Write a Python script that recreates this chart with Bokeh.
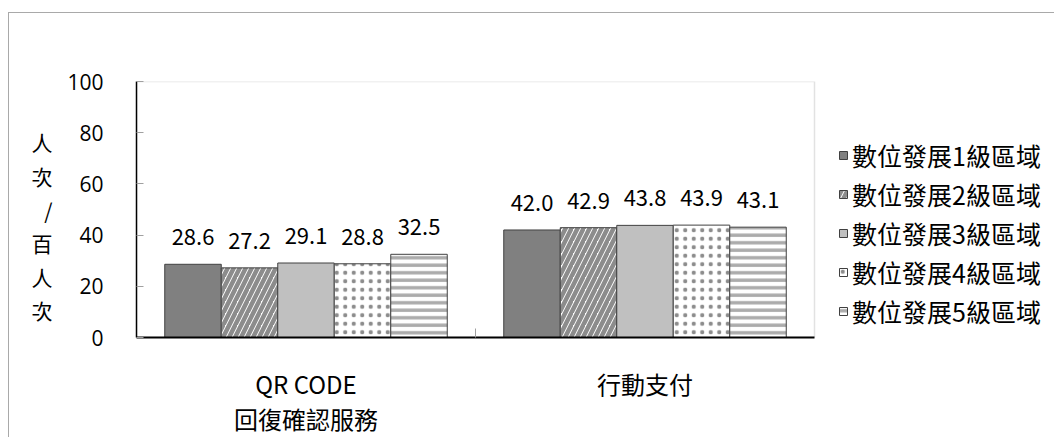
from bokeh.plotting import figure
from bokeh.models import (ColumnDataSource, FixedTicker, LabelSet, Legend,
                          LegendItem, Range1d, BoxAnnotation)
from bokeh.core.properties import value
from bokeh.embed import file_html
from bokeh.resources import INLINE

# ---- data ----
categories = ["QR CODE\n回復確認服務", "行動支付"]
series_names = ["數位發展1級區域", "數位發展2級區域", "數位發展3級區域",
                "數位發展4級區域", "數位發展5級區域"]
level1 = [28.6, 42.0]
level2 = [27.2, 42.9]
level3 = [29.1, 43.8]
level4 = [28.8, 43.9]
level5 = [32.5, 43.1]
y_ticks = [0, 20, 40, 60, 80, 100]
y_title = "人次/百人次"

series_values = [level1, level2, level3, level4, level5]

CJK = "Noto Sans CJK TC"
NUM = "Open Sans"

styles = [
    dict(fill_color="#808080", hatch_pattern=None),
    dict(fill_color="white", hatch_pattern="/", hatch_color="#8c8c8c", hatch_scale=12, hatch_weight=4.5),
    dict(fill_color="#c0c0c0", hatch_pattern=None),
    dict(fill_color="white", hatch_pattern=".", hatch_color="#8c8c8c", hatch_scale=8.5, hatch_weight=0.5),
    dict(fill_color="white", hatch_pattern="-", hatch_color="#ababab", hatch_scale=7.5, hatch_weight=3.4),
]

# layout (pixels)
W, H = 1046, 425
LEFT, RIGHT, TOP, BOTTOM = 127, 5, 68, 99
BOX_W = 678                      # width of the chart box
frame_w = W - LEFT - RIGHT
n_cat = len(categories)
x_end = n_cat * frame_w / BOX_W  # frame extends right to host the legend

p = figure(width=W, height=H, output_backend="svg", toolbar_location=None,
           x_range=Range1d(0, x_end), y_range=Range1d(0, 100),
           min_border_left=LEFT, min_border_right=RIGHT, min_border_top=TOP,
           min_border_bottom=BOTTOM)
p.styles = {"margin-top": "12px", "margin-left": "8px",
            "border-top": "1px solid #a9a9a9", "border-left": "1px solid #a9a9a9"}
p.xgrid.visible = False
p.ygrid.visible = False
p.outline_line_color = None
p.background_fill_color = "white"
p.border_fill_color = "white"

# chart box (top and right edges; axes cover left/bottom)
p.add_layout(BoxAnnotation(left=0, right=n_cat, bottom=0, top=100,
                           fill_color=None, line_color="#a0a0a0", line_width=1.5,
                           level="underlay"))

nser = len(series_names)
bar_w = 1.0 / (nser + 1)
items = []
for k, (name, vals, st) in enumerate(zip(series_names, series_values, styles)):
    xs = [i + 0.5 + (k - (nser - 1) / 2) * bar_w for i in range(n_cat)]
    src = ColumnDataSource(dict(x=xs, top=vals, label=["%.1f" % v for v in vals]))
    kw = dict(fill_color=st["fill_color"], line_color="#404040", line_width=1)
    if st["hatch_pattern"]:
        kw.update(hatch_pattern=st["hatch_pattern"], hatch_color=st["hatch_color"],
                  hatch_scale=st["hatch_scale"], hatch_weight=st["hatch_weight"])
    r = p.vbar(x="x", top="top", width=bar_w, bottom=0, source=src, **kw)
    items.append(LegendItem(label=name, renderers=[r]))
    p.add_layout(LabelSet(x="x", y="top", text="label", source=src, y_offset=19,
                          text_align="center", text_baseline="alphabetic",
                          text_font=value(CJK), text_font_size="22px",
                          text_color="black"))

legend = Legend(items=items, location=(702, 8), orientation="vertical")
legend.label_text_font = CJK
legend.label_text_font_size = "25px"
legend.label_text_color = "black"
legend.glyph_width = 10
legend.glyph_height = 10
legend.label_height = 22
legend.label_standoff = 4
legend.spacing = 3
legend.padding = 0
legend.margin = 0
legend.border_line_color = None
legend.background_fill_alpha = 0
p.add_layout(legend, "center")

# y axis
ya = p.yaxis[0]
ya.ticker = FixedTicker(ticks=y_ticks)
ya.axis_line_color = "black"
ya.axis_line_width = 1.5
ya.major_tick_in = 7
ya.major_tick_out = 0
ya.major_tick_line_color = "#a0a0a0"
ya.minor_tick_line_color = None
ya.major_label_standoff = 33
ya.major_label_text_font = NUM
ya.major_label_text_font_size = "21px"
ya.major_label_text_color = "black"
ya.axis_label = "\n" + "\n".join(y_title)
ya.axis_label_orientation = "horizontal"
ya.axis_label_text_font = CJK
ya.axis_label_text_font_size = "21px"
ya.axis_label_text_font_style = "normal"
ya.axis_label_text_line_height = 1.12
ya.axis_label_text_color = "black"
ya.axis_label_standoff = 12

# x axis
xa = p.xaxis[0]
xa.bounds = (0, n_cat)
xa.ticker = FixedTicker(ticks=[i + 0.5 for i in range(n_cat)],
                        minor_ticks=list(range(1, n_cat)))
xa.major_label_overrides = {i + 0.5: c for i, c in enumerate(categories)}
xa.axis_line_color = "black"
xa.axis_line_width = 2
xa.major_tick_line_color = None
xa.minor_tick_in = 9
xa.minor_tick_out = 0
xa.minor_tick_line_color = "#a0a0a0"
xa.major_label_standoff = 22
xa.major_label_text_font = CJK
xa.major_label_text_font_size = "24px"
xa.major_label_text_line_height = 1.0
xa.major_label_text_color = "black"

open("out.html", "w").write(file_html(p, INLINE))
